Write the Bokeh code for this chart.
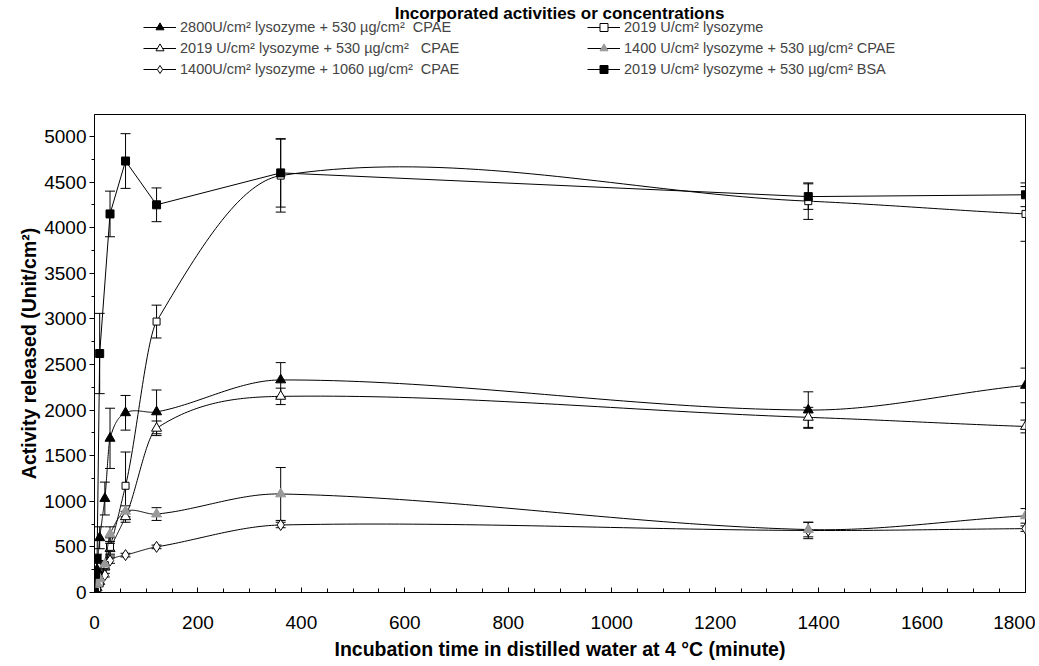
import numpy as np
from bokeh.plotting import figure
from bokeh.layouts import column
from bokeh.models import (Range1d, ColumnDataSource, Whisker, TeeHead, Legend, LegendItem,
                          SingleIntervalTicker, Label)
from bokeh.embed import file_html
from bokeh.resources import INLINE

FONT = "Liberation Sans"

# ---- data ----
t_2800 = [0, 5, 10, 20, 30, 60, 120, 360, 1380, 1800]
v_2800 = [0, 250, 600, 1030, 1690, 1970, 1980, 2330, 2000, 2270]
e_2800 = [0, 0, 120, 180, 330, 190, 240, 190, 200, 190]

t_lyso = [0, 5, 10, 20, 30, 60, 120, 360, 1380, 1800]
v_lyso = [0, 50, 100, 300, 500, 1170, 2970, 4570, 4290, 4150]
e_lyso = [0, 0, 0, 50, 100, 370, 180, 400, 200, 300]

t_2019 = [0, 5, 10, 20, 30, 60, 120, 360, 1380, 1800]
v_2019 = [0, 50, 120, 280, 480, 830, 1800, 2150, 1920, 1820]
e_2019 = [0, 0, 0, 30, 60, 60, 80, 90, 110, 70]

t_1400 = [0, 5, 10, 20, 30, 60, 120, 360, 1380, 1800]
v_1400 = [0, 100, 150, 310, 640, 890, 860, 1080, 690, 840]
e_1400 = [0, 0, 0, 40, 80, 60, 70, 290, 80, 80]

t_1060 = [0, 5, 10, 20, 30, 60, 120, 360, 1380, 1800]
v_1060 = [0, 110, 130, 190, 350, 410, 500, 740, 680, 700]
e_1060 = [0, 0, 0, 20, 30, 20, 20, 30, 90, 30]

t_bsa = [0, 2, 5, 10, 30, 60, 120, 360, 1380, 1800]
v_bsa = [0, 200, 370, 2620, 4150, 4730, 4250, 4600, 4340, 4360]
e_bsa = [0, 0, 50, 440, 250, 300, 185, 375, 140, 130]

labels = [
    "2800U/cm\u00b2 lysozyme + 530 \u00b5g/cm\u00b2  CPAE",
    "2019 U/cm\u00b2 lysozyme + 530 \u00b5g/cm\u00b2   CPAE",
    "1400U/cm\u00b2 lysozyme + 1060 \u00b5g/cm\u00b2  CPAE",
    "2019 U/cm\u00b2 lysozyme",
    "1400 U/cm\u00b2 lysozyme + 530 \u00b5g/cm\u00b2 CPAE",
    "2019 U/cm\u00b2 lysozyme + 530 \u00b5g/cm\u00b2 BSA",
]
legend_title = "Incorporated activities or concentrations"
x_title = "Incubation time in distilled water at 4 \u00b0C (minute)"
y_title = "Activity released (Unit/cm\u00b2)"


def smooth(t, v, n=40):
    t = np.asarray(t, float)
    v = np.asarray(v, float)
    m = np.empty_like(v)
    m[1:-1] = (v[2:] - v[:-2]) / (t[2:] - t[:-2])
    m[0] = (v[1] - v[0]) / (t[1] - t[0])
    m[-1] = (v[-1] - v[-2]) / (t[-1] - t[-2])
    m *= 0.85
    xs, ys = [], []
    s = np.linspace(0, 1, n, endpoint=False)
    h00 = 2 * s**3 - 3 * s**2 + 1
    h10 = s**3 - 2 * s**2 + s
    h01 = -2 * s**3 + 3 * s**2
    h11 = s**3 - s**2
    for i in range(len(t) - 1):
        h = t[i + 1] - t[i]
        xs.extend(t[i] + s * h)
        ys.extend(h00 * v[i] + h10 * h * m[i] + h01 * v[i + 1] + h11 * h * m[i + 1])
    xs.append(t[-1])
    ys.append(v[-1])
    return xs, ys


W = 1035
TOP_H = 106
H = 666

# ---- top strip: title + legend (its frame is aligned with the main frame) ----
top = figure(width=W, height=TOP_H, output_backend="svg", toolbar_location=None,
             x_range=Range1d(-2, -1), y_range=Range1d(-2, -1), title_location=None,
             x_axis_location=None, y_axis_location=None,
             min_border_left=0, min_border_right=0, min_border_top=0, min_border_bottom=0)
top.grid.visible = False
top.outline_line_color = None

top.add_layout(Label(x=465, y=TOP_H - 12.5, x_units="screen", y_units="screen",
                     text=legend_title, text_align="center", text_baseline="middle",
                     text_font=FONT, text_font_size="17px", text_font_style="bold",
                     text_color="black"))

# ---- main figure ----
p = figure(width=W, height=H - TOP_H, output_backend="svg", toolbar_location=None,
           x_range=Range1d(0, 1800), y_range=Range1d(0, 5240), title_location=None,
           min_border_left=94, min_border_right=10, min_border_top=8, min_border_bottom=74)
p.grid.visible = False
p.outline_line_color = "black"
p.outline_line_width = 1

series = [
    (t_2800, v_2800, e_2800, "triangle", "black", "black", 10, True),
    (t_2019, v_2019, e_2019, "triangle", "white", "black", 10, True),
    (t_1060, v_1060, e_1060, "diamond", "white", "black", 11, True),
    (t_lyso, v_lyso, e_lyso, "square", "white", "black", 7, True),
    (t_1400, v_1400, e_1400, "triangle", "#999999", "#999999", 10, True),
    (t_bsa, v_bsa, e_bsa, "square", "black", "black", 8, False),
]

items = []
for (t, v, e, mk, fill, lc, size, sm), lab in zip(series, labels):
    if sm:
        xs, ys = smooth(t, v)
    else:
        xs, ys = list(t), list(v)
    p.line(xs, ys, line_color="black", line_width=1)
    tt = [a for a, b in zip(t, e) if b > 0]
    up = [a + b for a, b in zip(v, e) if b > 0]
    lo = [a - b for a, b in zip(v, e) if b > 0]
    wsrc = ColumnDataSource(dict(x=tt, upper=up, lower=lo))
    p.add_layout(Whisker(source=wsrc, base="x", upper="upper", lower="lower",
                         line_color="black", line_width=1,
                         upper_head=TeeHead(size=10, line_color="black", line_width=1),
                         lower_head=TeeHead(size=10, line_color="black", line_width=1)))
    p.scatter(t, v, marker=mk, size=size, fill_color=fill, line_color=lc, line_width=1)
    # legend samples: same series in the top strip, whose ranges keep them out of view
    ln = top.line(t, v, line_color="black", line_width=1)
    sc = top.scatter(t, v, marker=mk, size=size, fill_color=fill, line_color=lc, line_width=1)
    items.append(LegendItem(label=lab, renderers=[ln, sc]))

legend = Legend(items=items, ncols=2, location=(49, 27))
legend.label_text_font = FONT
legend.label_text_font_size = "14.5px"
legend.glyph_width = 33
legend.glyph_height = 20
legend.label_height = 20
legend.label_width = 406
legend.label_standoff = 4
legend.spacing = 1
legend.padding = 0
legend.margin = 0
legend.border_line_color = None
legend.background_fill_alpha = 0
top.add_layout(legend, "center")

# axes
xa = p.xaxis[0]
xa.ticker = SingleIntervalTicker(interval=200, num_minor_ticks=4)
xa.major_tick_in = 5
xa.major_tick_out = 0
xa.minor_tick_in = 4
xa.minor_tick_out = 0
xa.major_label_standoff = 23
xa.axis_label = x_title
xa.axis_label_standoff = 6

ya = p.yaxis[0]
ya.ticker = SingleIntervalTicker(interval=500, num_minor_ticks=2)
ya.major_tick_in = 0
ya.major_tick_out = 5
ya.minor_tick_in = 0
ya.minor_tick_out = 3
ya.major_label_standoff = 3
ya.axis_label = y_title
ya.axis_label_standoff = 1

for ax in (xa, ya):
    ax.axis_line_color = "black"
    ax.major_tick_line_color = "black"
    ax.minor_tick_line_color = "black"
    ax.major_label_text_font = FONT
    ax.major_label_text_font_size = "19px"
    ax.major_label_text_color = "black"
    ax.axis_label_text_font = FONT
    ax.axis_label_text_font_size = "19.5px"
    ax.axis_label_text_font_style = "bold"
    ax.axis_label_text_color = "black"

layout = column(top, p, spacing=0)
open("out.html", "w").write(file_html(layout, INLINE))
